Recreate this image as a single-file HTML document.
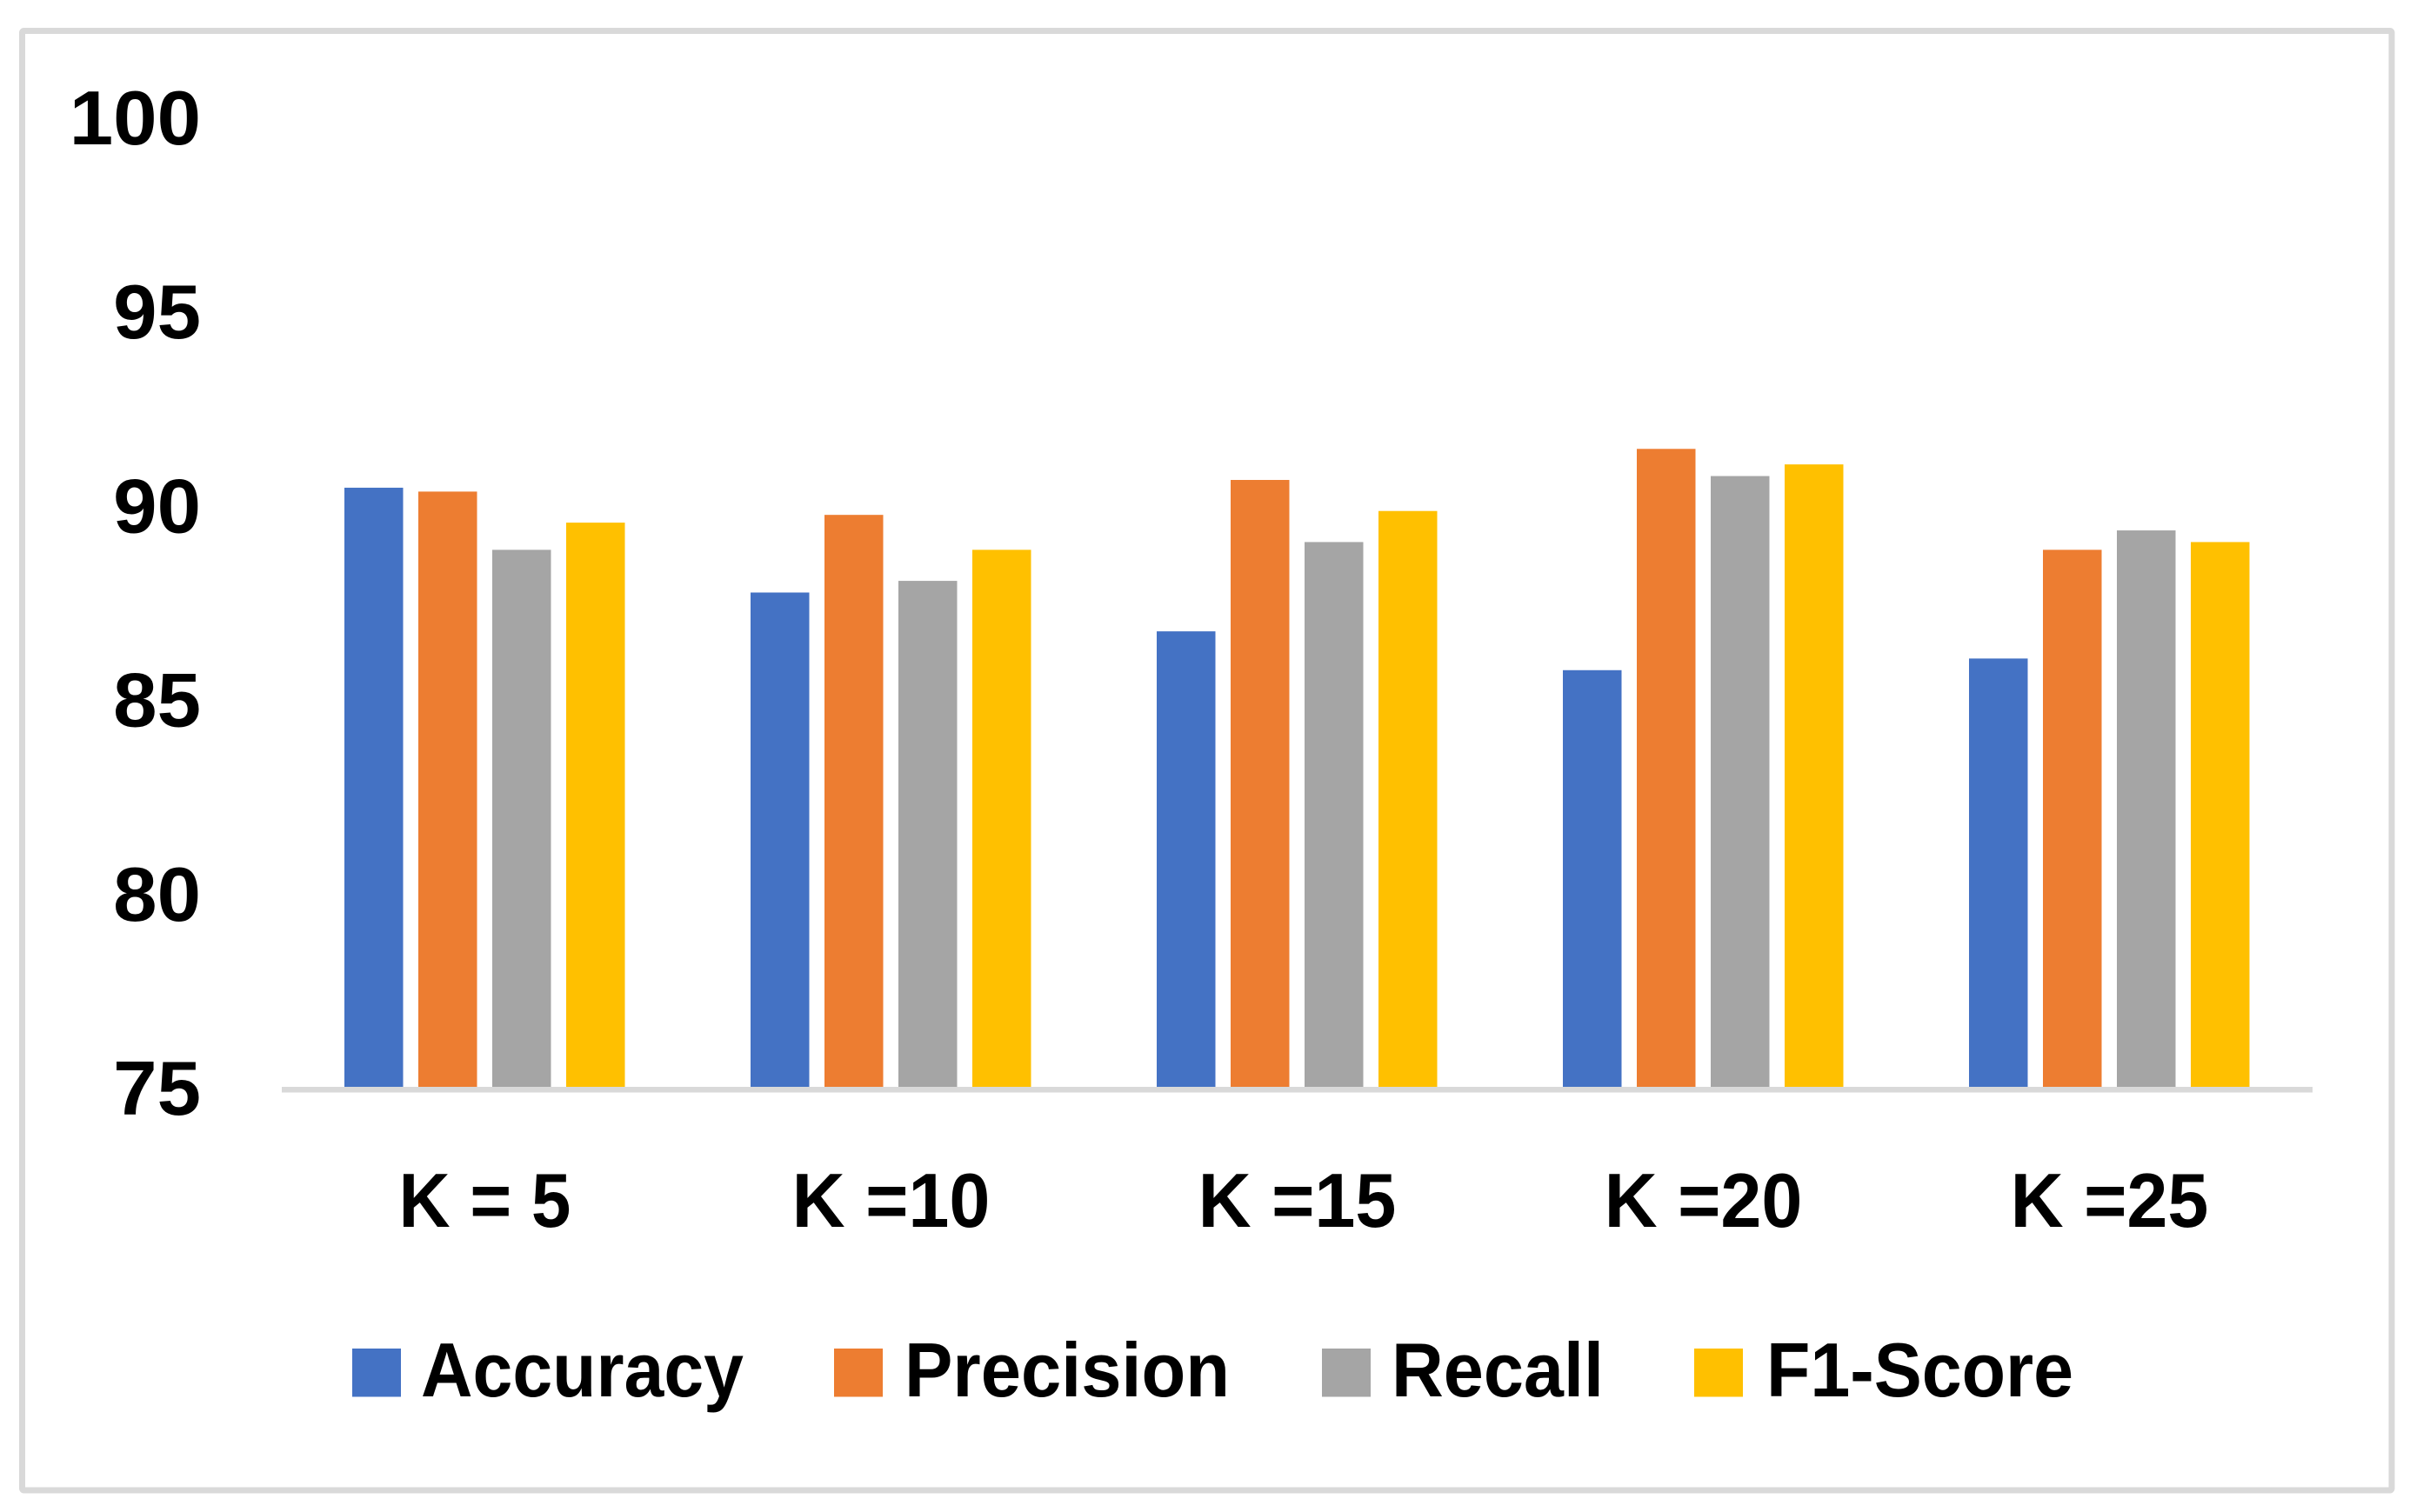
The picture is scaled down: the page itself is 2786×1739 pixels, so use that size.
<!DOCTYPE html>
<html lang="en">
<head>
<meta charset="utf-8">
<title>Performance metrics by K</title>
<style>
  html, body { margin: 0; padding: 0; background: #fff; width: 2786px; height: 1739px; overflow: hidden; }
  svg { display: block; }
  text { font-family: "Liberation Sans", sans-serif; font-weight: 700; font-size: 88px; fill: #000; }
</style>
</head>
<body>
<svg id="chart" xmlns="http://www.w3.org/2000/svg" width="2786" height="1739" viewBox="0 0 2786 1739">
  <rect x="25.5" y="35.5" width="2724.5" height="1678.5" fill="#fff" stroke="#d9d9d9" stroke-width="7" rx="2"/>
  <g id="bars"></g>
  <rect x="324" y="1250" width="2335" height="6.5" fill="#d9d9d9"/>
  <g id="y-ticks"></g>
  <g id="x-ticks"></g>
  <g>
    <g>
      <rect x="405" y="1551" width="56" height="55.5" fill="#4472C4"/>
      <text x="484" y="1606" textLength="371" lengthAdjust="spacingAndGlyphs">Accuracy</text>
    </g>
    <g>
      <rect x="959" y="1551" width="56" height="55.5" fill="#ED7D31"/>
      <text x="1040" y="1606" textLength="374" lengthAdjust="spacingAndGlyphs">Precision</text>
    </g>
    <g>
      <rect x="1520" y="1551" width="56" height="55.5" fill="#A5A5A5"/>
      <text x="1600" y="1606" textLength="244" lengthAdjust="spacingAndGlyphs">Recall</text>
    </g>
    <g>
      <rect x="1948" y="1551" width="56" height="55.5" fill="#FFC000"/>
      <text x="2031" y="1606" textLength="353" lengthAdjust="spacingAndGlyphs">F1-Score</text>
    </g>
  </g>
</svg>
<script>
const categories = ["K = 5", "K =10", "K =15", "K =20", "K =25"];
const accuracy = [90.5, 87.8, 86.8, 85.8, 86.1];
const precision = [90.4, 89.8, 90.7, 91.5, 88.9];
const recall = [88.9, 88.1, 89.1, 90.8, 89.4];
const f1Score = [89.6, 88.9, 89.9, 91.1, 89.1];
const yTicks = [75, 80, 85, 90, 95, 100];

const series = [
  { key: "accuracy", values: accuracy, color: "#4472C4" },
  { key: "precision", values: precision, color: "#ED7D31" },
  { key: "recall", values: recall, color: "#A5A5A5" },
  { key: "f1-score", values: f1Score, color: "#FFC000" }
];

const NS = "http://www.w3.org/2000/svg";
const plotLeft = 324, groupStep = 467, groupInset = 72, barStep = 85, barWidth = 67.5;
const baseY = 1253, unitPx = 44.65, yMin = 75;

function yScale(v) { return baseY - (v - yMin) * unitPx; }
function xBar(groupIndex, seriesIndex) { return plotLeft + groupInset + groupIndex * groupStep + seriesIndex * barStep; }
function xCenter(groupIndex) { return plotLeft + groupIndex * groupStep + groupStep / 2; }

const barsLayer = document.getElementById("bars");
series.forEach(function (s, si) {
  s.values.forEach(function (v, gi) {
    const r = document.createElementNS(NS, "rect");
    
    
    r.setAttribute("x", xBar(gi, si));
    r.setAttribute("y", yScale(v));
    r.setAttribute("width", barWidth);
    r.setAttribute("height", baseY - yScale(v));
    r.setAttribute("fill", s.color);
    barsLayer.appendChild(r);
  });
});

const yLayer = document.getElementById("y-ticks");
yTicks.forEach(function (t) {
  const el = document.createElementNS(NS, "text");
  
  
  el.setAttribute("x", 231);
  el.setAttribute("y", yScale(t) + 29);
  el.setAttribute("text-anchor", "end");
  el.textContent = String(t);
  yLayer.appendChild(el);
  const natural = el.getComputedTextLength();
  el.setAttribute("lengthAdjust", "spacingAndGlyphs");
  el.setAttribute("textLength", natural * 1.03);
});

const xLayer = document.getElementById("x-ticks");
categories.forEach(function (c, i) {
  const el = document.createElementNS(NS, "text");
  
  
  el.setAttribute("x", xCenter(i));
  el.setAttribute("y", 1411);
  el.setAttribute("text-anchor", "middle");
  el.textContent = c;
  xLayer.appendChild(el);
  const natural = el.getComputedTextLength();
  el.setAttribute("lengthAdjust", "spacingAndGlyphs");
  el.setAttribute("textLength", natural * (c.indexOf("= ") >= 0 ? 0.93 : 0.96));
});
</script>
</body>
</html>
